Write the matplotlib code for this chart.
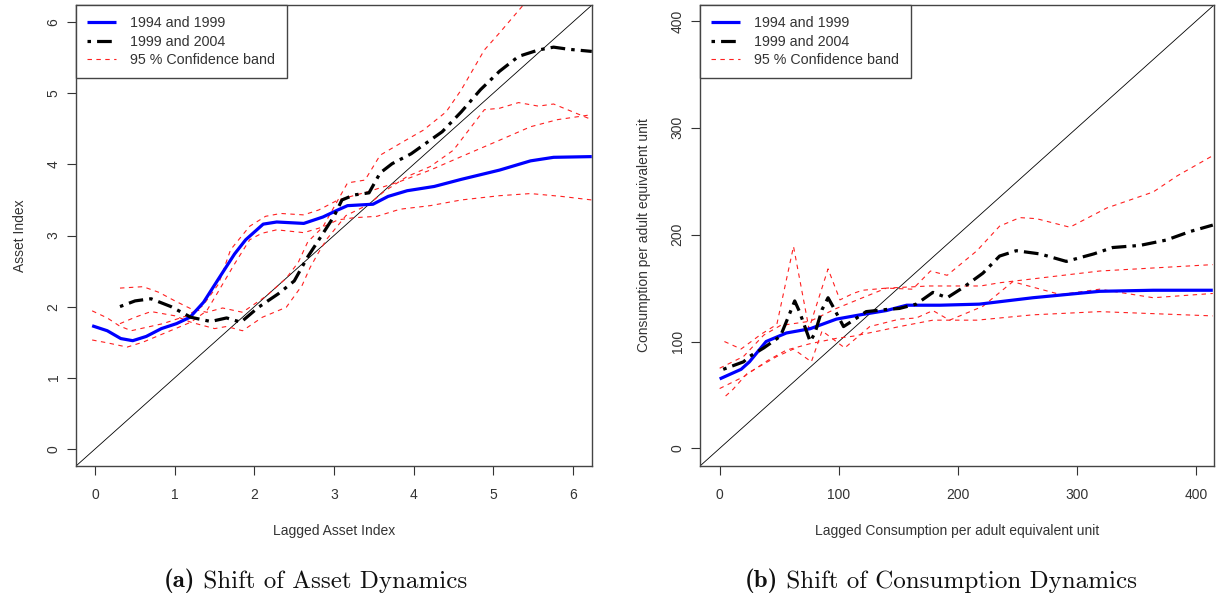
import matplotlib
matplotlib.use('Agg')
import matplotlib.pyplot as plt
from matplotlib.text import Annotation

plt.rcParams['font.family'] = ['Liberation Sans', 'DejaVu Sans']

# ---- panel (a): asset index ----
asset_blue_x = [-0.04, 0.15, 0.32, 0.47, 0.64, 0.83, 1.02, 1.19, 1.36, 1.56, 1.75, 1.89, 2.11, 2.28,
                2.62, 2.86, 3.05, 3.17, 3.49, 3.68, 3.92, 4.26, 4.60, 5.08, 5.47, 5.76, 6.24]
asset_blue_y = [1.73, 1.66, 1.55, 1.52, 1.58, 1.69, 1.76, 1.85, 2.06, 2.41, 2.74, 2.94, 3.16, 3.19,
                3.17, 3.26, 3.36, 3.42, 3.44, 3.55, 3.63, 3.69, 3.79, 3.92, 4.05, 4.10, 4.11]
asset_blue_up_x = [-0.04, 0.15, 0.30, 0.45, 0.85, 1.15, 1.35, 1.55, 1.70, 1.94, 2.14, 2.33, 2.62, 2.81,
                   3.05, 3.44, 3.83, 4.21, 4.60, 5.08, 5.47, 5.81, 6.24]
asset_blue_up_y = [1.94, 1.84, 1.73, 1.66, 1.76, 1.87, 2.01, 2.32, 2.80, 3.13, 3.27, 3.31, 3.29, 3.36,
                   3.50, 3.62, 3.76, 3.92, 4.11, 4.34, 4.53, 4.63, 4.70]
asset_blue_lo_x = [-0.04, 0.15, 0.40, 0.60, 0.90, 1.20, 1.40, 1.55, 1.75, 1.94, 2.09, 2.28, 2.62, 2.86,
                   3.05, 3.25, 3.54, 3.83, 4.21, 4.60, 5.08, 5.47, 5.86, 6.24]
asset_blue_lo_y = [1.53, 1.49, 1.43, 1.50, 1.64, 1.78, 1.94, 2.22, 2.60, 2.94, 3.03, 3.08, 3.04, 3.12,
                   3.22, 3.25, 3.27, 3.37, 3.42, 3.50, 3.56, 3.59, 3.55, 3.50]
asset_black_x = [0.31, 0.50, 0.70, 0.95, 1.20, 1.45, 1.65, 1.83, 2.05, 2.30, 2.50, 2.67, 2.81, 3.00,
                 3.10, 3.25, 3.44, 3.58, 3.73, 3.97, 4.12, 4.36, 4.60, 4.84, 5.08, 5.32, 5.57, 5.76,
                 5.95, 6.24]
asset_black_y = [2.00, 2.08, 2.11, 2.00, 1.85, 1.79, 1.84, 1.78, 1.99, 2.18, 2.36, 2.70, 2.94, 3.27,
                 3.50, 3.57, 3.60, 3.88, 4.01, 4.15, 4.27, 4.46, 4.74, 5.05, 5.31, 5.52, 5.61, 5.65,
                 5.62, 5.59]
asset_black_up_x = [0.31, 0.60, 0.80, 1.00, 1.20, 1.40, 1.60, 1.85, 2.15, 2.40, 2.55, 2.67, 2.86, 3.05,
                    3.17, 3.39, 3.58, 3.87, 4.12, 4.41, 4.60, 4.89, 5.08, 5.40, 5.60]
asset_black_up_y = [2.26, 2.28, 2.20, 2.08, 1.97, 1.92, 1.98, 1.92, 2.15, 2.40, 2.62, 2.91, 3.12, 3.50,
                    3.74, 3.78, 4.13, 4.32, 4.48, 4.74, 5.05, 5.61, 5.85, 6.27, 6.55]
asset_black_lo_x = [0.31, 0.50, 0.70, 1.00, 1.20, 1.50, 1.65, 1.85, 2.10, 2.40, 2.60, 2.70, 2.80, 2.91,
                    3.15, 3.44, 3.63, 3.92, 4.21, 4.50, 4.89, 5.08, 5.32, 5.57, 5.76, 6.00, 6.24]
asset_black_lo_y = [1.76, 1.85, 1.93, 1.87, 1.78, 1.69, 1.72, 1.66, 1.85, 1.99, 2.30, 2.55, 2.75, 2.95,
                    3.28, 3.44, 3.62, 3.83, 3.97, 4.20, 4.77, 4.79, 4.87, 4.82, 4.85, 4.74, 4.63]

# ---- panel (b): consumption ----
cons_blue_x = [0, 18, 25, 39, 56, 76, 98, 118, 140, 157, 185, 218, 263, 319, 364, 414]
cons_blue_y = [65, 74, 81, 100, 108, 112, 121, 125, 129, 134, 134, 135, 141, 147, 148, 148]
cons_blue_up_x = [0, 20, 37, 51, 76, 98, 120, 140, 176, 219, 235, 319, 414]
cons_blue_up_y = [75, 86, 106, 115, 119, 131, 141, 150, 152, 152, 155, 166, 172]
cons_blue_lo_x = [0, 20, 40, 56, 76, 98, 112, 134, 151, 179, 216, 263, 319, 414]
cons_blue_lo_y = [56, 67, 82, 92, 98, 103, 105, 110, 114, 120, 120, 125, 128, 124]
cons_black_x = [3, 20, 25, 37, 51, 58, 63, 67, 76, 80, 86, 91, 95, 104, 111, 123, 140, 151, 165,
                179, 191, 205, 221, 235, 249, 269, 291, 314, 330, 353, 375, 395, 414]
cons_black_y = [74, 81, 86, 94, 105, 124, 138, 128, 100, 108, 130, 141, 133, 114, 119, 128, 130,
                131, 135, 146, 141, 151, 164, 180, 185, 182, 175, 182, 188, 190, 195, 203, 209]
cons_black_up_x = [4, 18, 35, 48, 62, 75, 91, 101, 112, 120, 140, 162, 177, 191, 216, 235, 252,
                   266, 294, 325, 364, 384, 414]
cons_black_up_y = [100, 93, 107, 116, 189, 112, 168, 139, 145, 148, 150, 149, 166, 162, 185, 208,
                   216, 215, 207, 225, 240, 255, 274]
cons_black_lo_x = [5, 11, 23, 48, 62, 77, 86, 105, 126, 151, 165, 179, 193, 221, 246, 286, 319,
                   364, 414]
cons_black_lo_y = [49, 55, 70, 86, 93, 81, 110, 94, 114, 121, 122, 129, 120, 133, 156, 144, 149,
                   141, 145]

labels = ['1994 and 1999', '1999 and 2004', '95 % Confidence band']
dark = '#333333'


def draw_panel(ax, blue, blue_up, blue_lo, black, black_up, black_lo, lim, ticks,
               xlabel, ylabel):
    ax.axline((0, 0), slope=1, color='black', lw=0.6, zorder=1)
    h_band = None
    for xs, ys in [blue_up, blue_lo, black_up, black_lo]:
        h_band, = ax.plot(xs, ys, color='#ff2020', lw=0.8, dashes=(4, 4), zorder=2)
    h_blue, = ax.plot(blue[0], blue[1], color='#0000ff', lw=2.3, zorder=3,
                      solid_capstyle='butt')
    h_black, = ax.plot(black[0], black[1], color='black', lw=2.3, zorder=4,
                       dashes=(1.1, 1.9, 4.6, 1.9), dash_capstyle='butt')
    ax.set_xlim(lim)
    ax.set_ylim(lim)
    ax.set_xticks(ticks)
    ax.set_yticks(ticks)
    ax.set_xticklabels([str(t) for t in ticks])
    ax.set_yticklabels([str(t) for t in ticks], rotation=90, va='center')
    ax.tick_params(direction='out', length=6.5, width=0.8, colors=dark, labelsize=10)
    ax.tick_params(axis='x', pad=9)
    ax.tick_params(axis='y', pad=4.5)
    for s in ax.spines.values():
        s.set_color('#444444')
        s.set_linewidth(1.0)
    ax.set_xlabel(xlabel, color=dark, fontsize=10, labelpad=16)
    ax.set_ylabel(ylabel, color=dark, fontsize=10, labelpad=14)
    leg = ax.legend([h_blue, h_black, h_band], labels, loc='upper left', fontsize=10.3,
                    fancybox=False, framealpha=1, edgecolor='#444444', borderaxespad=0,
                    handlelength=2.0, handletextpad=1.0, labelspacing=0.3, borderpad=0.8)
    leg.get_frame().set_linewidth(1.0)
    for t in leg.get_texts():
        t.set_color(dark)


def caption(fig, x_px, tag, text):
    # bold tag, then the rest placed right after it
    t = fig.text(x_px / 1216, 1 - 587 / 600, tag, family='cmb10', fontsize=18,
                 ha='left', va='baseline', color='#111111')
    fig.add_artist(Annotation(' ' + text, xy=(1, 0), xycoords=t, va='bottom', ha='left',
                              family='cmr10', fontsize=18, color='#111111'))


fig = plt.figure(figsize=(12.16, 6.0), dpi=100)
ax1 = fig.add_axes([76 / 1216, 1 - 466 / 600, (592 - 76) / 1216, (466 - 5) / 600])
ax2 = fig.add_axes([700 / 1216, 1 - 466 / 600, (1214 - 700) / 1216, (466 - 5) / 600])

draw_panel(ax1, (asset_blue_x, asset_blue_y), (asset_blue_up_x, asset_blue_up_y),
           (asset_blue_lo_x, asset_blue_lo_y), (asset_black_x, asset_black_y),
           (asset_black_up_x, asset_black_up_y), (asset_black_lo_x, asset_black_lo_y),
           (-0.243, 6.243), [0, 1, 2, 3, 4, 5, 6], 'Lagged Asset Index', 'Asset Index')
draw_panel(ax2, (cons_blue_x, cons_blue_y), (cons_blue_up_x, cons_blue_up_y),
           (cons_blue_lo_x, cons_blue_lo_y), (cons_black_x, cons_black_y),
           (cons_black_up_x, cons_black_up_y), (cons_black_lo_x, cons_black_lo_y),
           (-16.5, 415), [0, 100, 200, 300, 400],
           'Lagged Consumption per adult equivalent unit',
           'Consumption per adult equivalent unit')

caption(fig, 164, '(a)', 'Shift of Asset Dynamics')
caption(fig, 745, '(b)', 'Shift of Consumption Dynamics')

fig.savefig('out.png', dpi=100)
